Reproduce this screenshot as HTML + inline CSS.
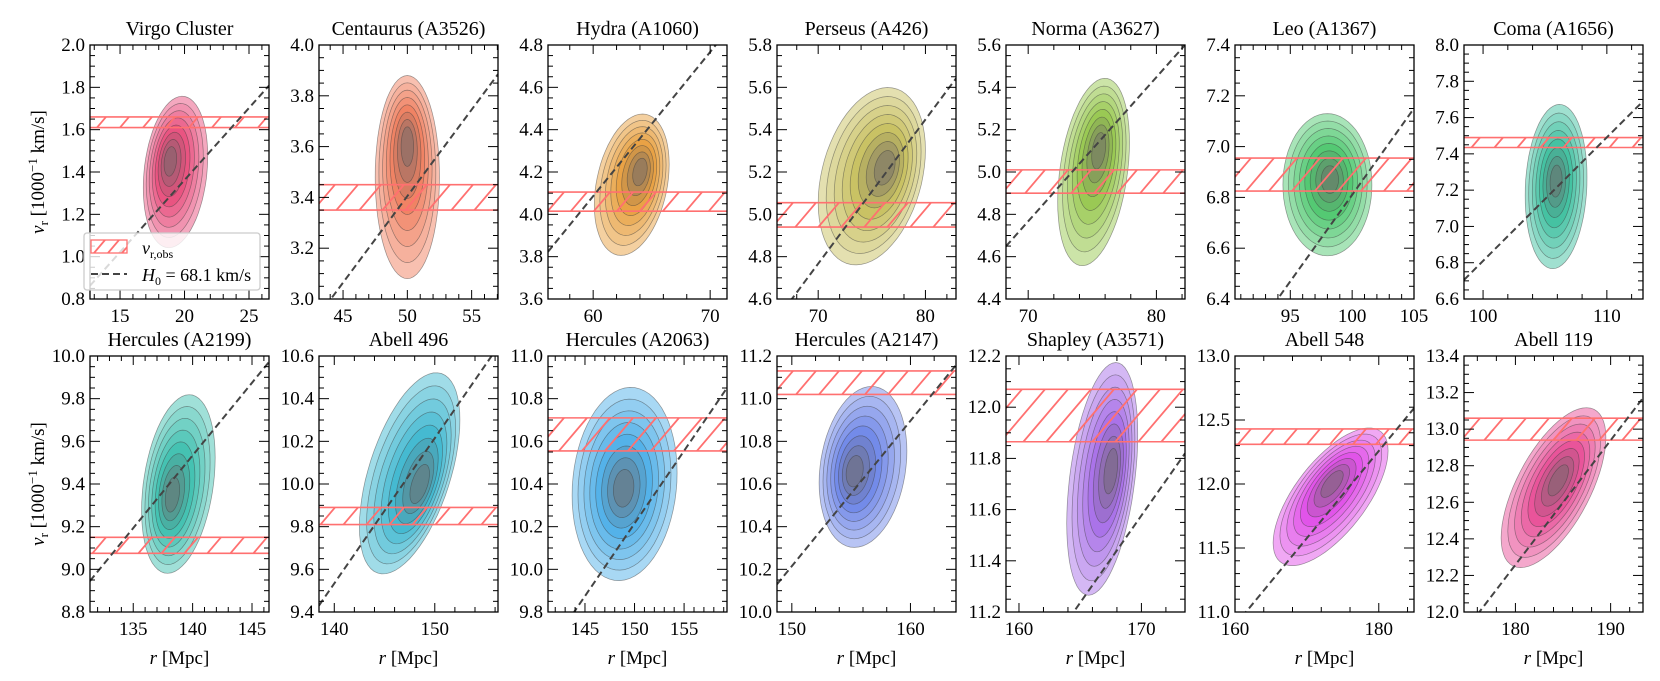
<!DOCTYPE html>
<html><head><meta charset="utf-8">
<style>
html,body{margin:0;padding:0;background:#fff;}
svg{display:block;}
svg text{font-family:"Liberation Serif","DejaVu Serif",serif;}
</style></head>
<body>
<svg id="chart" width="1660" height="681" viewBox="0 0 1660 681" font-family="Liberation Serif, serif" xmlns="http://www.w3.org/2000/svg">
<defs id="defs"></defs>
</svg>
<script>
// ---- data ----
const names = ["Virgo Cluster","Centaurus (A3526)","Hydra (A1060)","Perseus (A426)","Norma (A3627)","Leo (A1367)","Coma (A1656)",
  "Hercules (A2199)","Abell 496","Hercules (A2063)","Hercules (A2147)","Shapley (A3571)","Abell 548","Abell 119"];
const xMin = [12.67,43.13,56.14,66.16,68.27,90.53,98.46,131.36,138.48,141.27,148.75,158.94,160,174.6];
const xMax = [26.55,57.05,71.44,82.85,82.23,105,112.92,146.43,156.29,159.33,163.84,173.56,184.9,193.4];
const yMin = [0.8,3.0,3.6,4.6,4.4,6.4,6.6,8.8,9.4,9.8,10.0,11.2,11.0,12.0];
const yMax = [2.0,4.0,4.8,5.8,5.6,7.4,8.0,10.0,10.6,11.0,11.2,12.2,13.0,13.4];
const xMajor = [5,5,10,10,10,5,10,5,10,5,10,10,20,10];
const xMinor = [1,1,2,2,2,1,2,1,2,1,2,2,4,2];
const yMajor = [0.2,0.2,0.2,0.2,0.2,0.2,0.2,0.2,0.2,0.2,0.2,0.2,0.5,0.2];
const yMinor = [0.05,0.05,0.05,0.05,0.05,0.05,0.05,0.05,0.05,0.05,0.05,0.05,0.1,0.05];
const obsLo = [1.61,3.35,4.015,4.94,4.90,6.825,7.435,9.075,9.81,10.555,11.02,11.865,12.31,12.94];
const obsHi = [1.66,3.45,4.105,5.055,5.01,6.955,7.49,9.15,9.89,10.71,11.13,12.07,12.43,13.06];
const H0 = 68.1;
const kdeCx = [19.3,50,63.3,75,75.1,98,105.9,138.8,147.5,149,156,166.8,173.3,184];
const kdeCy = [1.40,3.48,4.14,5.18,5.0,6.85,7.22,9.40,10.05,10.40,10.68,11.72,11.90,12.68];
const kdeAx = [2.5,2.5,3.2,5.0,2.8,3.6,2.5,3.1,5.0,5.3,3.7,2.9,8.0,5.5];
const kdeAy = [0.35,0.40,0.32,0.40,0.42,0.28,0.45,0.40,0.40,0.45,0.37,0.42,0.40,0.34];
const kdeK  = [0.03,0.0,0.03,0.025,0.05,0.0,0.02,0.04,0.05,0.01,0.02,0.06,0.045,0.05];
const peakX = [18.9,50,64,76.2,75.5,98.2,105.9,138.3,148.5,148.9,155.3,167.5,173.5,184.5];
const peakY = [1.45,3.6,4.2,5.22,5.1,6.87,7.25,9.35,10.0,10.38,10.66,11.75,12.0,12.72];
const baseCol = ["#e8507e","#f08060","#e8a040","#c8c060","#98c850","#50c870","#40c0a0","#40c0b0","#40b8d0","#50b0e8","#7088e8","#a870e8","#e050e8","#e85098"];

// ---- layout ----
const svg = document.getElementById('chart');
const defs = document.getElementById('defs');
const NS = "http://www.w3.org/2000/svg";
const FF = '"Liberation Serif", serif';
function mk(tag, attrs, parent){const e=document.createElementNS(NS,tag);for(const k in attrs)e.setAttribute(k,attrs[k]);if(tag==='text')e.setAttribute('font-family',FF);(parent||svg).appendChild(e);return e;}
function hex(c){return [parseInt(c.slice(1,3),16),parseInt(c.slice(3,5),16),parseInt(c.slice(5,7),16)];}
function mix(a,b,t){return a.map((v,i)=>Math.round(v+(b[i]-v)*t));}
function rgb(a){return "rgb("+a.join(",")+")";}
const PW=179, tops=[45,356], PH=[254,256];
const NL = 8;

for(let i=0;i<14;i++){
  const row=Math.floor(i/7), col=i%7;
  const L=90+229*col, T=tops[row], Hh=PH[row];
  const sx=v=>L+(v-xMin[i])/(xMax[i]-xMin[i])*PW;
  const sy=v=>T+Hh-(v-yMin[i])/(yMax[i]-yMin[i])*Hh;
  const g=mk('g',{});
  
  
  const cp=mk('clipPath',{id:'clip'+i},defs);
  mk('rect',{x:L,y:T,width:PW,height:Hh},cp);
  const inner=mk('g',{'clip-path':'url(#clip'+i+')'},g);

  // KDE contours
  const base=hex(baseCol[i]), light=mix([255,255,255],base,0.5), core=mix(base,[110,105,105],0.65);
  for(let l=0;l<NL;l++){
    const t=l/(NL-1);
    const col2 = t<0.6 ? mix(light,base,t/0.6) : mix(base,core,(t-0.6)/0.4);
    const s=1-l*0.115;
    const cx=kdeCx[i]+(peakX[i]-kdeCx[i])*t, cy=kdeCy[i]+(peakY[i]-kdeCy[i])*t;
    let pts=[];
    for(let a=0;a<64;a++){
      const th=a/64*Math.PI*2;
      const dx=kdeAx[i]*s*Math.cos(th);
      const x=cx+dx, y=cy+kdeAy[i]*s*Math.sin(th)+kdeK[i]*dx;
      pts.push(sx(x).toFixed(1)+","+sy(y).toFixed(1));
    }
    const p=mk('polygon',{points:pts.join(" "),fill:rgb(col2),stroke:"rgba(60,60,60,0.5)","stroke-width":0.7},inner);
    
    
  }

  // observed band with hatch
  const yb=sy(obsLo[i]), yt=sy(obsHi[i]), bh=yb-yt;
  const band=mk('g',{},inner);
  
  
  const cb=mk('clipPath',{id:'band'+i},defs);
  mk('rect',{x:L,y:yt,width:PW,height:bh},cb);
  const hg=mk('g',{'clip-path':'url(#band'+i+')'},band);
  const dxh=bh*0.85;
  for(let x=L-dxh-30;x<L+PW+10;x+=23){
    mk('line',{x1:x,y1:yb,x2:x+dxh,y2:yt,stroke:"#ff7070","stroke-width":1.8},hg);
  }
  mk('line',{x1:L,y1:yt,x2:L+PW,y2:yt,stroke:"#ff7070","stroke-width":1.6},band);
  mk('line',{x1:L,y1:yb,x2:L+PW,y2:yb,stroke:"#ff7070","stroke-width":1.6},band);

  // Hubble line
  const hl=mk('line',{x1:sx(xMin[i]),y1:sy(xMin[i]*H0/1000),x2:sx(xMax[i]),y2:sy(xMax[i]*H0/1000),stroke:"#444","stroke-width":2,"stroke-dasharray":"7,4"},inner);
  
  

  // ticks
  const tk=mk('g',{stroke:"#000","stroke-width":1},g);
  
  
  const eps=1e-6;
  for(let v=Math.ceil(xMin[i]/xMinor[i]-eps)*xMinor[i]; v<=xMax[i]+eps; v+=xMinor[i]){
    const vr=Math.round(v*1000)/1000;
    const maj=Math.abs(vr/xMajor[i]-Math.round(vr/xMajor[i]))<1e-4;
    const len=maj?9:5, X=sx(vr);
    mk('line',{x1:X,y1:T+Hh,x2:X,y2:T+Hh-len},tk);
    mk('line',{x1:X,y1:T,x2:X,y2:T+len},tk);
    if(maj){
      const tx=mk('text',{x:X,y:T+Hh+23,'text-anchor':'middle','font-size':19,fill:"#000"},g);
      tx.textContent=String(Math.round(vr));
      
      
    }
  }
  for(let v=Math.ceil(yMin[i]/yMinor[i]-eps)*yMinor[i]; v<=yMax[i]+eps; v+=yMinor[i]){
    const vr=Math.round(v*1000)/1000;
    const maj=Math.abs(vr/yMajor[i]-Math.round(vr/yMajor[i]))<1e-4;
    const len=maj?10:5, Y=sy(vr);
    mk('line',{x1:L,y1:Y,x2:L+len,y2:Y},tk);
    mk('line',{x1:L+PW,y1:Y,x2:L+PW-len,y2:Y},tk);
    if(maj){
      const ty=mk('text',{x:L-5,y:Y+6,'text-anchor':'end','font-size':19,fill:"#000"},g);
      ty.textContent=vr.toFixed(1);
      
      
    }
  }
  const fr=mk('rect',{x:L,y:T,width:PW,height:Hh,fill:"none",stroke:"#000","stroke-width":1.3},g);
  
  
  const ti=mk('text',{x:L+PW/2,y:T-10,'text-anchor':'middle','font-size':20,fill:"#000"},g);
  ti.textContent=names[i];
  
  
  if(row===1){
    const xl=mk('text',{x:L+PW/2,y:664,'text-anchor':'middle','font-size':19,fill:"#000"},g);
    xl.innerHTML='<tspan font-style="italic">r</tspan> [Mpc]';
    
    
  }
  if(col===0){
    const cyL=T+Hh/2;
    const yl=mk('text',{x:0,y:0,'text-anchor':'middle','font-size':19,fill:"#000",transform:'translate(44,'+cyL+') rotate(-90)'},g);
    yl.innerHTML='<tspan font-style="italic">v</tspan><tspan font-size="13" dy="4">r</tspan><tspan dy="-4"> [1000</tspan><tspan font-size="13" dy="-7">−1</tspan><tspan dy="7"> km/s]</tspan>';
    
    
  }
}

// legend (in Virgo panel)
const lg=mk('g',{});


mk('rect',{x:84,y:233,width:176,height:57,rx:3,fill:"rgba(255,255,255,0.8)",stroke:"#ccc","stroke-width":1.3},lg);
const sw=mk('g',{},lg);


const lcp=mk('clipPath',{id:'lgclip'},defs);
mk('rect',{x:91,y:240,width:36,height:13},lcp);
const lh=mk('g',{'clip-path':'url(#lgclip)'},sw);
for(let x=80;x<130;x+=14) mk('line',{x1:x,y1:253,x2:x+11,y2:240,stroke:"#ff7070","stroke-width":1.8},lh);
mk('rect',{x:91,y:240,width:36,height:13,fill:"none",stroke:"#ff7070","stroke-width":1.3},sw);
const t1=mk('text',{x:142,y:254,'font-size':18,fill:"#000"},sw);
t1.innerHTML='<tspan font-style="italic">v</tspan><tspan font-size="12" dy="4">r,obs</tspan>';
const sw2=mk('g',{},lg);


mk('line',{x1:91,y1:274,x2:127,y2:274,stroke:"#444","stroke-width":2,"stroke-dasharray":"7,4"},sw2);
const t2=mk('text',{x:142,y:281,'font-size':18,fill:"#000"},sw2);
t2.innerHTML='<tspan font-style="italic">H</tspan><tspan font-size="12" dy="4">0</tspan><tspan dy="-4"> = 68.1 km/s</tspan>';
</script>
</body></html>
